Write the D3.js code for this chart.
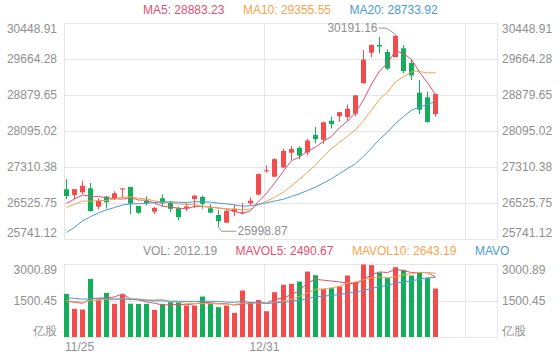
<!DOCTYPE html>
<html><head><meta charset="utf-8">
<script src="https://cdn.jsdelivr.net/npm/d3@7"></script>
<style>body{margin:0;background:#fff;} svg{display:block;font-family:"Liberation Sans",Arial,sans-serif;}</style>
</head><body><svg id="c" width="560" height="360"></svg>
<script>
// ---- data ----
const dates = ["11/25","11/26","11/27","11/30","12/01","12/02","12/03","12/04","12/07","12/08","12/09","12/10","12/11","12/14","12/15","12/16","12/17","12/18","12/21","12/22","12/23","12/24","12/28","12/29","12/30","12/31","01/04","01/05","01/06","01/07","01/08","01/11","01/12","01/13","01/14","01/15","01/18","01/19","01/20","01/21","01/22","01/25","01/26","01/27","01/28","01/29","02/01"];
const open  = [26816,26690,26750,26838,26437,26659,26620,26811,26866,26452,26561,26328,26620,26524,26402,26408,26604,26648,26402,26256,26088,26328,26300,26511,26698,27210,27090,27290,27613,27720,27618,27999,27897,28311,28407,28392,28463,29126,29793,29961,29808,29699,29889,29568,28921,28821,28457];
const high  = [27034,26822,27003,26953,26620,26670,26774,26840,26870,26455,26663,26430,26702,26556,26437,26517,26685,26681,26495,26365,26375,26484,26517,26637,27160,27334,27491,27705,27759,27753,27916,28174,28290,28398,28500,28664,28870,29852,29970,30139,29867,30191.16,29961,29649,29198,28943,28900];
const low   = [26598,26604,26713,26327,26380,26397,26582,26620,26273,26282,26463,26277,26445,26317,26140,26338,26408,26391,26293,25998.87,26085,26227,26266,26463,26681,27178,27088,27273,27448,27470,27552,27818,27810,28145,28289,28311,28407,29120,29693,29780,29416,29690,29344,29198,28457,28267,28398];
const close = [26669.75,26819.45,26894.68,26341.49,26567.68,26532.58,26728.5,26835.92,26506.85,26304.56,26515,26410.59,26505.87,26389.52,26207.29,26440,26678.38,26498.6,26306.65,26119.25,26343.1,26386.56,26314.63,26568.49,27147.11,27231.13,27472.81,27649.86,27692.3,27548.52,27878.22,27908.22,28276.75,28235.6,28496.86,28573.86,28862.77,29642.28,29962.47,29927.76,29447.85,30159.01,29391.26,29297.53,28550.77,28283.71,28892.86];
const volume = [1796,1178,1151,2411,1562,1836,1384,1767,1390,1380,1385,1137,1384,1452,1452,1315,1315,1685,1400,1247,1315,1014,1932,1460,1540,1082,1863,2165,2207,2302,2713,2561,2001,2027,2096,2548,2274,3000.89,2975,2672,2440,2890.66,2781,2550,2672,2438.16,2012.19];
// sessions before the visible window (only feed the moving averages)
const priorClose = [24586.6,24107.42,24462.5,24939.73,25227,25695.92,25712.97,26016.17,26301.48,26226.98,26169.38,26156.86,26381.67,26415.09,26544.29,26356.97,26451.54,26486.2,26588.2];
const priorVolume = [1650,1900,1800,1700,1850,1600,1750,1800,1680,1700,1600,1500,1650,1450,1550,1400,1350,1500,1414];
const priceTicks = [30448.91,29664.28,28879.65,28095.02,27310.38,26525.75,25741.12];
const volTicks = [3000.89,1500.45];
const volUnit = "亿股";
const xTickDates = ["11/25","12/31"];
const maPeriods = [5,10,20];
const maColors = ["#e2506f","#f5a44e","#4a9ad5"];
const highLabel = "30191.16", lowLabel = "25998.87";

// ---- layout ----
const L = 64, R = 497, slots = 54;
const pTop = 22.6, pBot = 238.6, vTop = 264.5, vBot = 337.5;
const up = "#f44c4c", down = "#13ae5c", grid = "#e6e6e6", txt = "#8f8f8f";

const svg = d3.select("#c");
const x = d3.scaleBand().domain(d3.range(slots)).range([L, R]).paddingInner(0).paddingOuter(0);
const y = d3.scaleLinear().domain([priceTicks[priceTicks.length-1], priceTicks[0]]).range([pBot, pTop]);
const yv = d3.scaleLinear().domain([0, volTicks[0]]).range([vBot, vTop]);
const bx = i => Math.round(x(i));
const cx = i => bx(i) + 2.5;

function ma(prior, vals, n){
  const all = prior.concat(vals), off = prior.length;
  return vals.map((_, i) => d3.mean(all.slice(off + i - n + 1, off + i + 1)));
}
const priceMA = maPeriods.map(n => ma(priorClose, close, n));
const volMA = maPeriods.map(n => ma(priorVolume, volume, n));

// ---- grid ----
const g = svg.append("g");
priceTicks.forEach(t => {
  const yy = Math.round(y(t)) + 0.5;
  g.append("line").attr("x1", L).attr("x2", R).attr("y1", yy).attr("y2", yy).attr("stroke", grid);
});
[vTop, (vTop+vBot)/2, vBot].forEach(v => {
  const yy = Math.floor(v) + 0.5;
  g.append("line").attr("x1", L).attr("x2", R).attr("y1", yy).attr("y2", yy).attr("stroke", grid);
});
const vx = [L, x(dates.indexOf("12/31")), x(50), R].map(v => Math.round(v) + 0.5);
vx.forEach(xx => {
  g.append("line").attr("x1", xx).attr("x2", xx).attr("y1", Math.round(pTop)+0.5).attr("y2", Math.round(pBot)+0.5).attr("stroke", grid);
  g.append("line").attr("x1", xx).attr("x2", xx).attr("y1", Math.floor(vTop)+0.5).attr("y2", Math.floor(vBot)+0.5).attr("stroke", grid);
});

// ---- axis labels ----
const fs = "12px";
priceTicks.forEach((t, k) => {
  let cy = y(t);
  if (k === 0) cy += 6; if (k === priceTicks.length-1) cy -= 6;
  [[57, "end"], [502, "start"]].forEach(([xx, a]) =>
    svg.append("text").attr("x", xx).attr("y", cy + 4.2).attr("text-anchor", a).attr("font-size", fs).attr("fill", txt).text(t.toFixed(2)));
});
const volLab = [[volTicks[0].toFixed(2), yv(volTicks[0]) + 5], [volTicks[1].toFixed(2), yv(volTicks[1])], [volUnit, vBot - 7]];
volLab.forEach(([s, cy]) => {
  [[57, "end"], [502, "start"]].forEach(([xx, a]) =>
    svg.append("text").attr("x", xx).attr("y", cy + 4.2).attr("text-anchor", a).attr("font-size", fs).attr("fill", txt).text(s));
});
xTickDates.forEach((d, k) => {
  const i = dates.indexOf(d);
  svg.append("text").attr("x", k === 0 ? L + 1 : x(i)).attr("y", 351)
    .attr("text-anchor", k === 0 ? "start" : "middle").attr("font-size", fs).attr("fill", txt).text(d);
});

// ---- candles ----
const cg = svg.append("g");
close.forEach((c, i) => {
  const o = open[i], col = c >= o ? up : down;
  cg.append("line").attr("x1", cx(i)).attr("x2", cx(i)).attr("y1", y(high[i])).attr("y2", y(low[i])).attr("stroke", col).attr("stroke-width", 1);
  const t = y(Math.max(o, c)), b = y(Math.min(o, c));
  cg.append("rect").attr("x", bx(i)).attr("width", 5).attr("y", t).attr("height", Math.max(1, b - t)).attr("fill", col);
});
// ---- volume bars ----
volume.forEach((v, i) => {
  const col = close[i] >= open[i] ? up : down;
  cg.append("rect").attr("x", bx(i)).attr("width", 5).attr("y", yv(v)).attr("height", vBot - 0.5 - yv(v)).attr("fill", col);
});

// ---- MA lines ----
const line = (sc) => d3.line().x((d, i) => cx(i)).y(d => sc(d));
priceMA.forEach((arr, k) => svg.append("path").attr("d", line(y)(arr)).attr("fill", "none").attr("stroke", maColors[k]).attr("stroke-width", 1));
volMA.forEach((arr, k) => svg.append("path").attr("d", line(yv)(arr)).attr("fill", "none").attr("stroke", maColors[k]).attr("stroke-width", 1));

// ---- extreme annotations ----
const hi = high.indexOf(d3.max(high)), lo = low.indexOf(d3.min(low));
const hy = y(high[hi]);
svg.append("polyline").attr("points", `${cx(hi)},${hy} ${cx(hi)-9},${hy-6.3} ${cx(hi)-17},${hy-6.3}`).attr("fill", "none").attr("stroke", "#999");
svg.append("text").attr("x", cx(hi)-18).attr("y", hy - 6.3 + 4.2).attr("text-anchor", "end").attr("font-size", fs).attr("fill", txt).text(highLabel);
const ly = y(low[lo]);
svg.append("polyline").attr("points", `${cx(lo)},${ly} ${cx(lo)+3},${ly+4.5} ${cx(lo)+18},${ly+4.5}`).attr("fill", "none").attr("stroke", "#999");
svg.append("text").attr("x", cx(lo)+19).attr("y", ly + 4.5 + 4.2).attr("text-anchor", "start").attr("font-size", fs).attr("fill", txt).text(lowLabel);

// ---- legends ----
function legend(items, x0, baseline, clipW){
  const lg = svg.append("g");
  if (clipW) {
    svg.append("clipPath").attr("id", "lc").append("rect").attr("x", 0).attr("y", baseline - 14).attr("width", clipW).attr("height", 20);
    lg.attr("clip-path", "url(#lc)");
  }
  let xx = x0;
  items.forEach(([s, col]) => {
    const t = lg.append("text").attr("x", xx).attr("y", baseline).attr("font-size", fs).attr("fill", col).text(s);
    xx += t.node().getComputedTextLength() + 18.5;
  });
}
const last = a => a[a.length-1].toFixed(2);
legend(maPeriods.map((n, k) => [`MA${n}: ${last(priceMA[k])}`, maColors[k]]), 143, 14.3);
legend([[`VOL: ${last(volume)}`, txt]].concat(maPeriods.map((n, k) => [`MAVOL${n}: ${last(volMA[k])}`, maColors[k]])), 143, 255, 509);
</script></body></html>
